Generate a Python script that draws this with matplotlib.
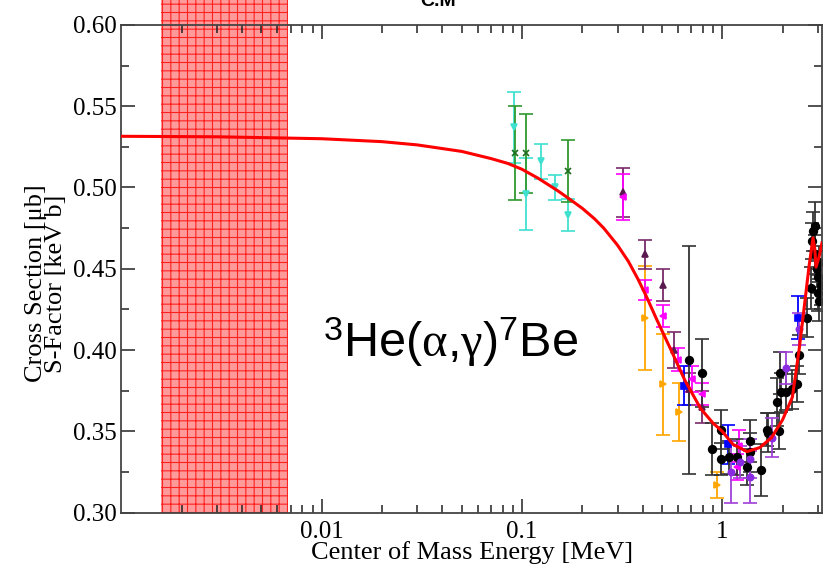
import numpy as np
import matplotlib.pyplot as plt
from matplotlib.patches import Rectangle
import matplotlib.transforms as mtransforms

plt.rcParams['mathtext.fontset'] = 'custom'
plt.rcParams['mathtext.rm'] = 'Liberation Sans'
plt.rcParams['mathtext.it'] = 'Liberation Serif'
plt.rcParams['hatch.linewidth'] = 0.8

# fitted S-factor curve (E in MeV, S in keV b)
fit_e = [0.001, 0.003, 0.01, 0.02, 0.03, 0.05, 0.07, 0.085, 0.1, 0.12, 0.15, 0.17,
         0.2, 0.23, 0.256, 0.3, 0.34, 0.38, 0.418, 0.47, 0.555, 0.65, 0.78, 0.9,
         1.0, 1.13, 1.33, 1.54, 1.76, 2.0, 2.24, 2.42, 2.6, 2.71, 2.84, 2.90, 2.94,
         3.04, 3.15]
fit_s = [0.5315, 0.5312, 0.5300, 0.5282, 0.5262, 0.5222, 0.5178, 0.5148, 0.5112,
         0.5058, 0.4982, 0.4935, 0.4872, 0.4808, 0.4750, 0.4645, 0.4545, 0.4435,
         0.4330, 0.4190, 0.4000, 0.3815, 0.3640, 0.3550, 0.3500, 0.3420, 0.3375,
         0.3400, 0.3460, 0.3570, 0.3710, 0.4000, 0.4320, 0.4510, 0.4690, 0.4620,
         0.4510, 0.4570, 0.4660]

black_e = [0.685, 0.795, 0.891, 0.99, 0.99, 1.08, 1.19, 1.37, 1.37, 1.33, 1.57, 1.67,
           1.70, 1.91, 1.87, 1.97, 1.95, 2.07, 2.24, 2.37, 2.42, 2.65, 2.77, 2.91,
           2.84, 2.80, 2.90, 2.98, 3.00, 3.00, 3.06, 3.05, 3.12]
black_s = [0.394, 0.386, 0.339, 0.351, 0.333, 0.334, 0.334, 0.344, 0.337, 0.328, 0.326,
           0.351, 0.349, 0.350, 0.368, 0.374, 0.386, 0.374, 0.376, 0.379, 0.397, 0.420,
           0.438, 0.476, 0.473, 0.467, 0.459, 0.450, 0.445, 0.435, 0.430, 0.454, 0.440]
black_err = [0.070, 0.021, 0.016, 0.012, 0.010, 0.010, 0.011, 0.013, 0.012, 0.011, 0.016,
             0.010, 0.012, 0.011, 0.015, 0.012, 0.013, 0.011, 0.012, 0.011, 0.012, 0.012,
             0.013, 0.015, 0.012, 0.011, 0.012, 0.011, 0.010, 0.011, 0.012, 0.010, 0.012]

violet_e = [1.10, 1.37, 1.37, 1.22, 1.78, 2.09, 2.42]
violet_s = [0.325, 0.333, 0.322, 0.331, 0.346, 0.389, 0.413]
violet_err = [0.019, 0.012, 0.016, 0.010, 0.012, 0.010, 0.010]

magenta_e = [0.321, 0.413, 0.508, 0.60, 0.71, 0.795, 1.21, 1.19]
magenta_s = [0.494, 0.437, 0.421, 0.394, 0.382, 0.373, 0.341, 0.328]
magenta_err = [0.014, 0.006, 0.007, 0.007, 0.008, 0.007, 0.010, 0.008]

plum_e = [0.321, 0.413, 0.508, 0.576, 0.685, 0.795]
plum_s = [0.497, 0.459, 0.440, 0.400, 0.376, 0.365]
plum_err = [0.015, 0.009, 0.010, 0.011, 0.010, 0.010]

orange_e = [0.413, 0.508, 0.610, 0.945]
orange_s = [0.420, 0.379, 0.362, 0.317]
orange_err = [0.032, 0.031, 0.018, 0.008]

blue_e = [0.646, 1.07, 2.40]
blue_s = [0.378, 0.342, 0.420]
blue_err = [0.012, 0.012, 0.013]

green_e = [0.0928, 0.105, 0.169]
green_s = [0.521, 0.521, 0.510]
green_err = [0.029, 0.0245, 0.019]

cyan_e = [0.091, 0.105, 0.125, 0.147, 0.169]
cyan_s = [0.537, 0.496, 0.516, 0.500, 0.483]
cyan_err = [0.022, 0.022, 0.011, 0.0075, 0.010]

# solar Gamow window
gamow_lo, gamow_hi = 0.00157, 0.0068

fig, ax = plt.subplots(figsize=(8.32, 5.67), dpi=100)
fig.subplots_adjust(left=0.146, right=0.988, bottom=0.096, top=0.956)

trans = mtransforms.blended_transform_factory(ax.transData, ax.transAxes)
ax.add_patch(Rectangle((gamow_lo, 0), gamow_hi - gamow_lo, 1.06, transform=trans,
                       facecolor='#ff9a9a', edgecolor='#ff2020', hatch='++', lw=0,
                       clip_on=False, zorder=0.5))

series = [
    (cyan_e, cyan_s, cyan_err, '#40e0d0', '#40e0d0', 'v', 5),
    (green_e, green_s, green_err, '#2f9a2f', '#1e6e1e', 'x', 4),
    (orange_e, orange_s, orange_err, '#ffa500', '#ffa500', '>', 5),
    (plum_e, plum_s, plum_err, '#7a2a6a', '#5a1a50', '^', 5),
    (magenta_e, magenta_s, magenta_err, '#ff00ff', '#ff00ff', '<', 5),
    (blue_e, blue_s, blue_err, '#0000ff', '#0000ff', 's', 5),
    (black_e, black_s, black_err, '#333333', 'black', 'o', 5.5),
    (violet_e, violet_s, violet_err, '#a040d8', '#8a2be2', 'o', 4.5),
]
for e, s, err, ecol, mcol, mk, ms in series:
    ax.errorbar(e, s, yerr=err, fmt=mk, color=mcol, ecolor=ecol, ms=ms,
                elinewidth=1.3, capsize=5, capthick=1.3, mew=1.2, zorder=2)

ax.plot(fit_e, fit_s, color='red', lw=2.2, zorder=3)

ax.set_xscale('log')
ax.set_xlim(0.001, 3.15)
ax.set_ylim(0.30, 0.60)
ax.set_xticks([0.01, 0.1, 1])
ax.set_xticklabels(['0.01', '0.1', '1'])
ax.set_yticks(np.arange(0.30, 0.601, 0.05))
ax.set_yticklabels(['%.2f' % v for v in np.arange(0.30, 0.601, 0.05)])
ax.set_yticks(np.arange(0.325, 0.60, 0.05), minor=True)
ax.tick_params(which='both', direction='in', top=True, right=True, color='#222222',
               labelsize=18, width=1.1)
ax.tick_params(which='major', length=10)
ax.tick_params(which='minor', length=6)
for lab in ax.get_xticklabels() + ax.get_yticklabels():
    lab.set_family('Liberation Serif')
ax.xaxis.set_tick_params(pad=6)
for sp in ax.spines.values():
    sp.set_color('#444444')
    sp.set_linewidth(1.3)

ax.set_xlabel('Center of Mass Energy [MeV]', family='Liberation Serif', fontsize=19)
ax.xaxis.set_label_coords(0.5, -0.058)
ax.set_ylabel('Cross Section [\u03bcb]\nS-Factor [keV b]', family='Liberation Serif',
              fontsize=19, linespacing=0.9)
ax.yaxis.set_label_coords(-0.078, 0.47)

ax.text(0.0101, 0.396, r'$^{3}$He($\alpha$,$\gamma$)$^{7}$Be', fontsize=35,
        family='Liberation Sans', ha='left', va='baseline', zorder=4)

fig.text(0.527, 1 - 6 / 567, 'C.M', fontsize=14, fontweight='bold',
         family='Liberation Sans', ha='center', va='baseline')

fig.savefig('out.png', dpi=100)
